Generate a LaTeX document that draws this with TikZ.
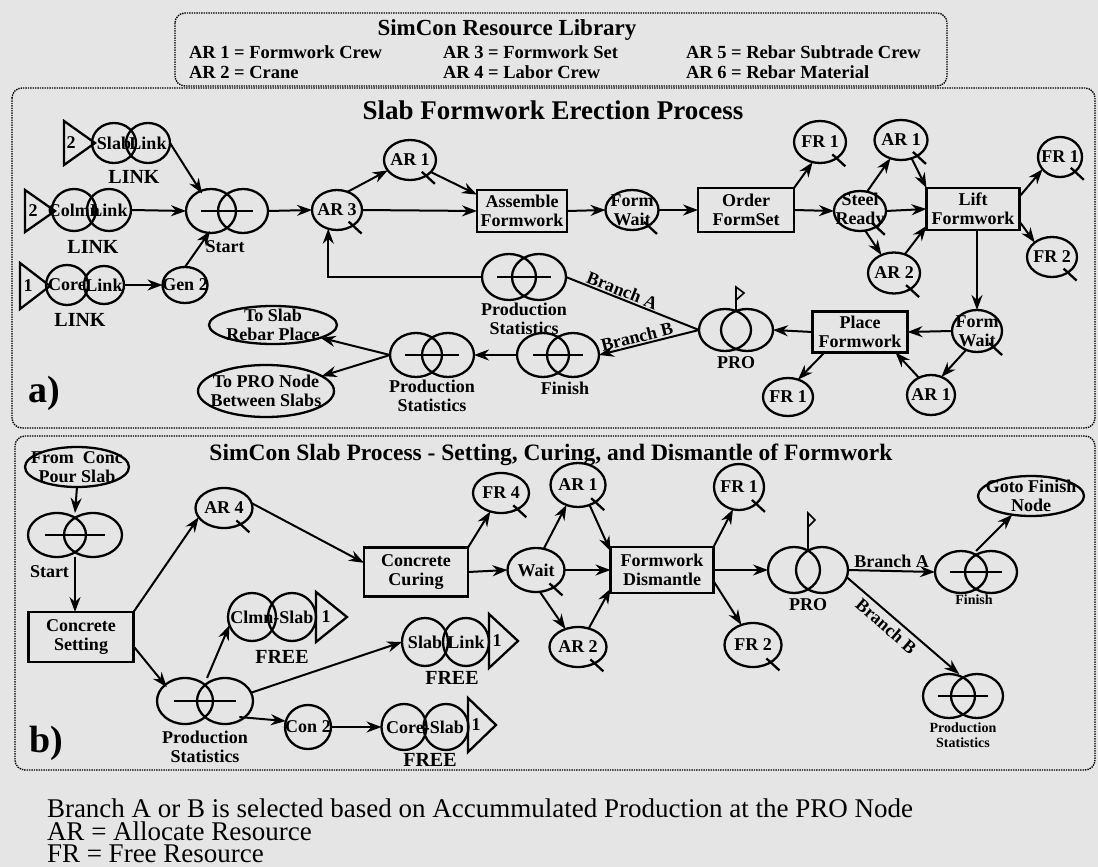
\documentclass[tikz,border=0pt]{standalone}
\usepackage{fontspec}
\setmainfont{Liberation Serif}
\usetikzlibrary{shapes.geometric,arrows.meta,calc}
\newcommand\nodefnt{\fontsize{18}{19}\selectfont\bfseries}
\newcommand\smallfnt{\fontsize{14}{15}\selectfont\bfseries}
\newcommand\tagfnt{\fontsize{20}{21}\selectfont\bfseries}
\newcommand\resnd[6][]{%
  \node[resnode,#1] (#2) at (#3,#4) {};
  \node[lbl] (#2-t) at (#2) {#5};
  \ifnum#6=1\relax\draw[sh] (#2.-45) ++(-4,-4) -- ++(13,12);\fi}
\newcommand\twin[7]{%
  \node[twinnode, minimum width={2*(#4+#5)}, minimum height={2*#6}] (#1) at (#2,#3) {};
  \draw[sh] (#2-#4,#3) ellipse [x radius=#5, y radius=#6];
  \draw[sh] (#2+#4,#3) ellipse [x radius=#5, y radius=#6];
  \ifnum#7>0\relax\draw[sh] (#2-#7,#3) -- (#2+#7,#3);\fi}
\begin{document}
\begin{tikzpicture}[x=1pt,y=-1pt,
  every node/.style={inner sep=0pt, outer sep=0pt},
  sh/.style={draw, line width=2.3pt},
  resnode/.style={sh, ellipse, minimum width=50pt, minimum height=40pt},
  twinnode/.style={ellipse},
  act/.style={sh, rectangle, align=center, font=\nodefnt},
  lbl/.style={align=center, font=\nodefnt},
  tagf/.style={font=\tagfnt},
  smallf/.style={align=center, font=\smallfnt},
  arr/.style={line width=2pt, -{Stealth[length=15pt,width=11pt]}},
  ln/.style={line width=2pt},
  secbox/.style={densely dotted, line width=1.4pt, rounded corners=10pt},
]
\fill[black!10] (0,0) rectangle (1098,867);
\useasboundingbox (0,0) rectangle (1098,867);

% ---------- frames and titles ----------
\draw[secbox] (175,13) rectangle (947,86);
\draw[secbox] (12,88) rectangle (1095,428);
\draw[secbox] (15,436) rectangle (1095,770);
\node[font=\fontsize{23}{24}\selectfont\bfseries] (libt) at (507,30) {SimCon Resource Library};
\node[anchor=west, font=\fontsize{18.5}{20}\selectfont\bfseries] (lib1) at (189,52) {AR 1 = Formwork Crew};
\node[anchor=west, font=\fontsize{18.5}{20}\selectfont\bfseries] (lib2) at (189,72) {AR 2 = Crane};
\node[anchor=west, font=\fontsize{18.5}{20}\selectfont\bfseries] (lib3) at (443,52) {AR 3 = Formwork Set};
\node[anchor=west, font=\fontsize{18.5}{20}\selectfont\bfseries] (lib4) at (443,72) {AR 4 = Labor Crew};
\node[anchor=west, font=\fontsize{18.5}{20}\selectfont\bfseries] (lib5) at (686,52) {AR 5 = Rebar Subtrade Crew};
\node[anchor=west, font=\fontsize{18.5}{20}\selectfont\bfseries] (lib6) at (686,72) {AR 6 = Rebar Material};
\node[font=\fontsize{27}{28}\selectfont\bfseries] (ta) at (553,110) {Slab Formwork Erection Process};
\node[font=\fontsize{23.5}{25}\selectfont\bfseries] (tb) at (551,455) {SimCon Slab Process - Setting, Curing, and Dismantle of Formwork};
\node[font=\fontsize{38}{40}\selectfont\bfseries] (la) at (44,393) {a)};
\node[font=\fontsize{38}{40}\selectfont\bfseries] (lb) at (46,743) {b)};
\node[anchor=west, font=\fontsize{27}{28}\selectfont] (n1) at (47,808) {Branch A or B is selected based on Accummulated Production at the PRO Node};
\node[anchor=west, font=\fontsize{27}{28}\selectfont] (n2) at (47,831) {AR = Allocate Resource};
\node[anchor=west, font=\fontsize{27}{28}\selectfont] (n3) at (47,854) {FR = Free Resource};

% ---------- section a: nodes ----------
\draw[sh] (64,121) -- (95,143) -- (64,165) -- cycle;
\node[lbl] (sl-n) at (71,143) {2};
\resnd[minimum width=44pt]{sl1}{114}{143}{Slab}{0}
\resnd[minimum width=44pt]{sl2}{148}{143}{Link}{0}
\node[tagf] (sl-l) at (134,177) {LINK};

\draw[sh] (25,190) -- (55,211) -- (25,232) -- cycle;
\node[lbl] (cl-n) at (33,211) {2};
\resnd[minimum width=44pt, minimum height=42pt]{cl1}{74}{210}{Colmn}{0}
\resnd[minimum width=44pt, minimum height=42pt]{cl2}{109}{210}{Link}{0}
\node[tagf] (cl-l) at (93,247) {LINK};

\draw[sh] (20,263) -- (50,286) -- (20,309) -- cycle;
\node[lbl] (co-n) at (28,286) {1};
\resnd[minimum width=42pt]{co1}{67}{285}{Core}{0}
\resnd[minimum width=40pt, minimum height=38pt]{co2}{104}{285}{Link}{0}
\node[tagf] (co-l) at (80,320) {LINK};

\resnd[minimum width=45pt, minimum height=36pt]{gen2}{185}{285}{Gen 2}{0}
\twin{start}{227}{211}{16}{25}{22}{26}
\node[lbl] (start-l) at (225,247) {Start};
\resnd{ar3}{337}{210}{AR 3}{1}
\resnd[minimum width=52pt]{ar1a}{410}{160}{AR 1}{1}
\node[act, minimum width=90pt, minimum height=42pt] (asm) at (522,211) {Assemble\\Formwork};
\resnd[minimum width=53pt]{fw1}{632}{210}{Form\\Wait}{1}
\node[act, minimum width=96pt, minimum height=44pt] (ord) at (746,210) {Order\\FormSet};
\resnd[minimum width=52pt, minimum height=42pt]{fr1a}{820}{142}{FR 1}{1}
\resnd[minimum width=52pt]{steel}{860}{211}{Steel\\Ready}{1}
\resnd[minimum width=53pt]{ar1b}{901}{140}{AR 1}{1}
\resnd[minimum width=52pt, minimum height=41pt]{ar2a}{894}{273}{AR 2}{1}
\node[act, minimum width=93pt, minimum height=42pt] (lift) at (973,209) {Lift\\Formwork};
\resnd[minimum width=44pt]{fr1b}{1060}{157}{FR 1}{1}
\resnd{fr2a}{1052}{257}{FR 2}{1}
\resnd[minimum height=42pt]{fw2}{977}{331}{Form\\Wait}{1}
\node[act, minimum width=95pt, minimum height=41pt] (place) at (860,332) {Place\\Formwork};
\resnd[minimum width=48pt]{ar1c}{931}{395}{AR 1}{0}
\resnd[minimum height=38pt]{fr1c}{788}{397}{FR 1}{0}
\twin{pro1}{736}{330}{11}{26}{21}{0}
\draw[line width=1.6pt] (736,311) -- (736,287) -- (744,293) -- (736,300);
\node[lbl] (pro1-l) at (736,363) {PRO};
\twin{ps1}{524}{277}{15}{27}{23}{27}
\node[lbl] (ps1-l) at (524,319) {Production\\Statistics};
\twin{fin1}{558}{355}{15}{26}{22}{25}
\node[lbl] (fin1-l) at (565,388) {Finish};
\twin{ps2}{432}{355}{16}{26}{22}{27}
\node[lbl] (ps2-l) at (432,396) {Production\\Statistics};
\node[resnode, minimum width=128pt, minimum height=38pt] (toslab) at (273,325) {};
\node[lbl] (toslab-t) at (toslab) {To Slab\\Rebar Place};
\node[resnode, minimum width=136pt, minimum height=52pt] (topro) at (266,391) {};
\node[lbl] (topro-t) at (topro) {To PRO Node\\Between Slabs};

% ---------- section a: connectors ----------
\draw[arr] (sl2.east) -- (start.145);
\draw[arr] (cl2.east) -- (start.west);
\draw[arr] (co2.east) -- (gen2.west);
\draw[arr] (gen2.north) -- (start.230);
\draw[arr] (start.east) -- (ar3.west);
\draw[arr] (ar3.60) -- (ar1a.205);
\draw[arr] (ar1a.-30) -- (asm.160);
\draw[arr] (ar3.east) -- (asm.west);
\draw[arr] (asm.east) -- (fw1.west);
\draw[arr] (fw1.east) -- (ord.west);
\draw[arr] (ord.north east) -- (fr1a.250);
\draw[arr] (ord.east) -- (steel.west);
\draw[arr] (steel.70) -- (ar1b.240);
\draw[arr] (ar1b.-60) -- (lift.north west);
\draw[arr] (steel.east) -- (lift.west);
\draw[arr] (steel.-75) -- (ar2a.125);
\draw[arr] (ar2a.60) -- (lift.200);
\draw[arr] (lift.15) -- (fr1b.215);
\draw[arr] (lift.-15) -- (fr2a.140);
\draw[arr] (lift.south -| fw2.north) -- (fw2.north);
\draw[arr] (fw2.west) -- (place.east);
\draw[arr] (fw2.240) -- (ar1c.60);
\draw[arr] (ar1c.125) -- (place.-30);
\draw[arr] (place.-150) -- (fr1c.60);
\draw[arr] (place.west) -- (pro1.east);
\draw[ln] (ps1.east) -- node[lbl, sloped, above=2pt, pos=0.4] (bra) {Branch A} (pro1.west);
\draw[arr] (pro1.west) -- (fin1.east);
\path (fin1.east) -- node[lbl, sloped, above=2pt, pos=0.4] (brb) {Branch B} (pro1.west);
\draw[arr] (fin1.west) -- (ps2.east);
\draw[arr] (ps2.west) -- (toslab.-15);
\draw[arr] (ps2.west) -- (topro.15);
\draw[arr] (ps1.west) -| (ar3.245);

% ---------- section b: nodes ----------
\node[resnode, minimum width=104pt, minimum height=40pt] (fromc) at (77,467) {};
\node[lbl] (fromc-t) at (fromc) {From\ \ Conc\\Pour Slab};
\twin{start2}{75}{535}{18}{29}{22}{30}
\node[lbl, anchor=west] (start2-l) at (30,572) {Start};
\node[act, minimum width=105pt, minimum height=50pt] (cs) at (81,637) {Concrete\\Setting};
\resnd[minimum width=57pt]{ar4}{224}{508}{AR 4}{1}
\node[act, minimum width=104pt, minimum height=49pt] (cur) at (416,572) {Concrete\\Curing};
\resnd[minimum width=56pt]{fr4}{501}{493}{FR 4}{1}
\resnd[minimum width=57pt, minimum height=44pt]{wait}{536}{570}{Wait}{1}
\resnd[minimum width=55pt, minimum height=44pt]{ar1d}{578}{485}{AR 1}{1}
\resnd[minimum width=57pt]{ar2b}{578}{647}{AR 2}{1}
\node[act, minimum width=103pt, minimum height=46pt] (dis) at (662,570) {Formwork\\Dismantle};
\resnd[minimum height=46pt]{fr1d}{739}{487}{FR 1}{1}
\resnd[minimum width=57pt, minimum height=44pt]{fr2b}{753}{645}{FR 2}{1}
\twin{pro2}{808}{570}{14}{26}{23}{0}
\draw[line width=1.6pt] (808,551) -- (808,513) -- (815,520) -- (808,527);
\node[lbl] (pro2-l) at (808,605) {PRO};
\twin{fin2}{976}{572}{15}{26}{21}{26}
\node[smallf] (fin2-l) at (974,600) {Finish};
\node[resnode, minimum width=106pt, minimum height=40pt] (gotof) at (1031,496) {};
\node[lbl] (gotof-t) at (gotof) {Goto Finish\\Node};
\twin{ps4}{963}{696}{14}{26}{22}{25}
\node[smallf] (ps4-l) at (963,735) {Production\\Statistics};
\twin{ps3}{205}{701}{20}{28}{23}{31}
\node[lbl] (ps3-l) at (205,747) {Production\\Statistics};

\resnd[minimum width=48pt, minimum height=48pt]{cm1}{252}{617}{}{0}
\resnd[minimum width=48pt, minimum height=48pt]{cm2}{292}{617}{}{0}
\node[lbl] (cm-t) at (272,617) {Clmn-Slab};
\draw[sh] (316,592) -- (347,617) -- (316,642) -- cycle;
\node[lbl] (cm-n) at (326,617) {1};
\node[tagf] (cm-f) at (282,657) {FREE};

\resnd[minimum width=46pt, minimum height=48pt]{sb1}{425}{642}{Slab}{0}
\resnd[minimum width=46pt, minimum height=48pt]{sb2}{466}{642}{Link}{0}
\draw[sh] (489,614) -- (518,641) -- (489,668) -- cycle;
\node[lbl] (sb-n) at (497,641) {1};
\node[tagf] (sb-f) at (452,678) {FREE};

\resnd[minimum width=46pt, minimum height=44pt]{con2}{308}{727}{Con 2}{0}
\resnd[minimum width=45pt, minimum height=46pt]{cr1}{404}{727}{}{0}
\resnd[minimum width=45pt, minimum height=46pt]{cr2}{446}{727}{}{0}
\node[lbl] (cr-t) at (425,727) {Core-Slab};
\draw[sh] (468,698) -- (496,725) -- (468,752) -- cycle;
\node[lbl] (cr-n) at (476,725) {1};
\node[tagf] (cr-f) at (430,760) {FREE};

% ---------- section b: connectors ----------
\draw[arr] (fromc.south) -- (start2.north);
\draw[arr] (start2.south) -- (start2.south |- cs.north);
\draw[arr] (cs.north east) -- (ar4.200);
\draw[arr] (ar4.10) -- (cur.170);
\draw[arr] (cs.-10) -- (ps3.160);
\draw[arr] (ps3.85) -- (cm1.200);
\draw[arr] (ps3.10) -- (sb1.west);
\draw[arr] (ps3.-25) -- (con2.165);
\draw[arr] (con2.east) -- (cr1.west);
\draw[arr] (cur.north east) -- (fr4.240);
\draw[arr] (cur.east) -- (wait.west);
\draw[arr] (wait.70) -- (ar1d.240);
\draw[arr] (ar1d.-60) -- (dis.160);
\draw[arr] (wait.east) -- (dis.west);
\draw[arr] (wait.-80) -- (ar2b.125);
\draw[arr] (ar2b.60) -- (dis.200);
\draw[arr] (dis.north east) -- (fr1d.255);
\draw[arr] (dis.-12) -- (fr2b.120);
\draw[arr] (dis.east) -- (pro2.west);
\draw[arr] (pro2.east) -- node[lbl, above=3pt] (bra2) {Branch A} (fin2.west);
\draw[arr] (pro2.-10) -- node[lbl, sloped, below=5pt, pos=0.42] (brb2) {Branch B} (ps4.100);
\draw[arr] (fin2.north) -- (gotof.225);
\end{tikzpicture}
\end{document}
